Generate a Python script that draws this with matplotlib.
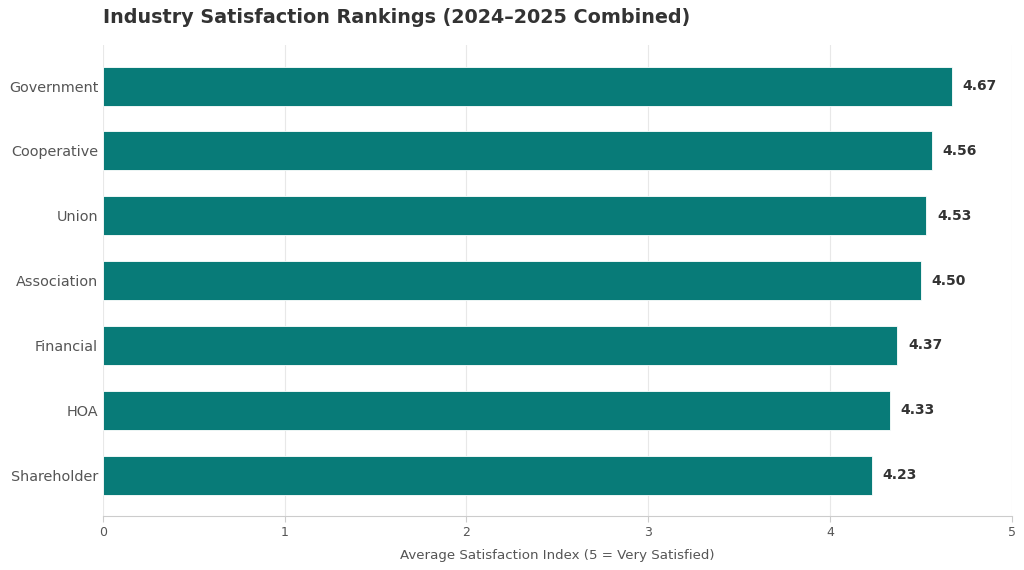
import matplotlib
matplotlib.use("Agg")
import matplotlib.pyplot as plt

industries = ["Government", "Cooperative", "Union", "Association", "Financial", "HOA", "Shareholder"]
scores = [4.67, 4.56, 4.53, 4.50, 4.37, 4.33, 4.23]

bar_color = "#087B78"
text_dark = "#333333"
text_gray = "#555555"

fig = plt.figure(figsize=(10.24, 5.7), dpi=100)
ax = fig.add_axes([0.1006, 0.0947, 0.8874, 0.826])

# top-ranked industry goes at the top
ypos = list(range(len(industries)))[::-1]
ax.barh(ypos, scores, height=0.6, color=bar_color, edgecolor="white", linewidth=0.6, zorder=2)

for y, v in zip(ypos, scores):
    ax.text(v + 0.06, y, f"{v:.2f}", va="center", ha="left",
            fontsize=10, fontweight="bold", color=text_dark)

ax.set_yticks(ypos)
ax.set_yticklabels(industries, fontsize=10.4, color=text_gray)
ax.set_xlim(0, 5)
ax.set_xticks([0, 1, 2, 3, 4, 5])
ax.tick_params(axis="x", labelsize=9, colors=text_gray, length=4, color="#cccccc")
ax.tick_params(axis="y", length=0, pad=3.5)

ax.grid(axis="x", color="#e8e8e8", linewidth=0.8, zorder=0)
ax.set_axisbelow(True)
for side in ["top", "right", "left"]:
    ax.spines[side].set_visible(False)
ax.spines["bottom"].set_color("#cccccc")

ax.set_xlabel("Average Satisfaction Index (5 = Very Satisfied)", fontsize=9.6,
              color=text_gray, labelpad=7)
ax.set_title("Industry Satisfaction Rankings (2024\u20132025 Combined)", loc="left",
             fontsize=13.8, fontweight="bold", color=text_dark, pad=16)

fig.savefig("out.png", dpi=100)
